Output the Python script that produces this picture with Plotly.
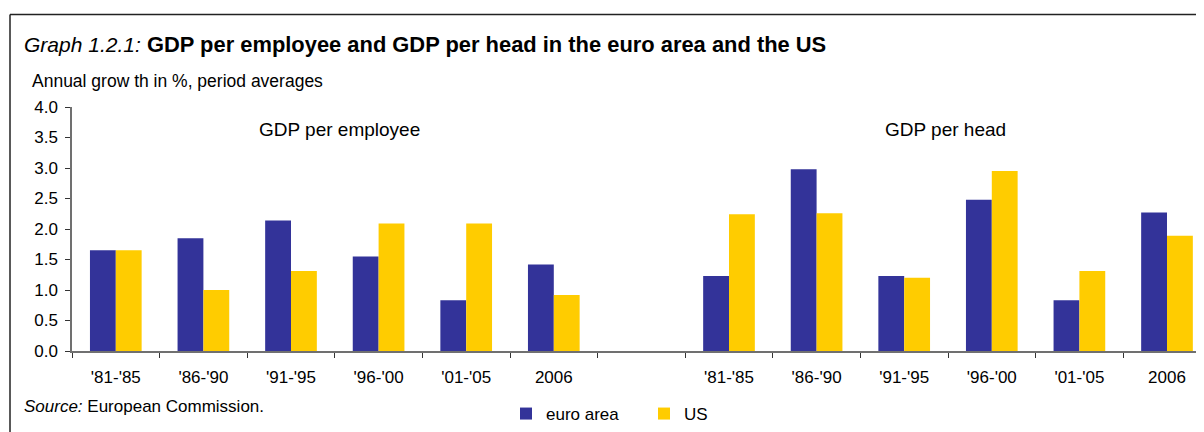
import plotly.graph_objects as go

# ---- data ----
periods = ["'81-'85", "'86-'90", "'91-'95", "'96-'00", "'01-'05", "2006"]
emp_euro = [1.65, 1.85, 2.14, 1.55, 0.83, 1.42]
emp_us = [1.65, 1.00, 1.31, 2.09, 2.09, 0.92]
head_euro = [1.23, 2.98, 1.23, 2.48, 0.83, 2.27]
head_us = [2.24, 2.26, 1.20, 2.95, 1.31, 1.89]
panel_titles = ["GDP per employee", "GDP per head"]
series_names = ["euro area", "US"]
colors = ["#333399", "#FFCC00"]

# page geometry (browser body has an 8px margin)
OFF = 8
W, H = 1204 - OFF, 432 - OFF
plot_left, plot_top, plot_bottom = 72, 107, 352   # page pixels
L = plot_left - OFF
T = plot_top - OFF
B = H - (plot_bottom - OFF)
R = 0
PW, PH = W - L - R, H - T - B

def px(x):  # page x -> paper
    return (x - OFF - L) / PW

def py(y):  # page y -> paper
    return (H - B - (y - OFF)) / PH

n = len(periods)
gap = 1
x_left = list(range(n))
x_right = [n + gap + i for i in range(n)]
xs = x_left + x_right
cat_w = 87.6
x_max = -0.5 + PW / cat_w

fig = go.Figure()
for name, col, a, b in [(series_names[0], colors[0], emp_euro, head_euro),
                        (series_names[1], colors[1], emp_us, head_us)]:
    fig.add_trace(go.Bar(x=xs, y=a + b, name=name, marker=dict(color=col, line=dict(width=0))))

font = "Liberation Sans, Arial, sans-serif"

fig.update_layout(
    width=W, height=H,
    margin=dict(l=L, r=R, t=T, b=B, pad=0),
    paper_bgcolor="white", plot_bgcolor="white",
    barmode="group", bargap=0.41, bargroupgap=0,
    font=dict(family=font, size=17, color="black"),
    showlegend=True,
    legend=dict(orientation="h", x=px(506), y=py(397), xanchor="left", yanchor="top",
                font=dict(size=17), entrywidth=93, entrywidthmode="pixels",
                bgcolor="rgba(0,0,0,0)", itemclick=False),
    xaxis=dict(range=[-0.5, x_max], tickmode="array", tickvals=xs, ticktext=periods + periods,
               ticks="", showline=True, linecolor="#707070", linewidth=1.5, showgrid=False,
               zeroline=False, ticklabelstandoff=10, tickfont=dict(size=17),
               minor=dict(tickvals=[i - 0.5 for i in range(2 * n + gap + 1)], ticks="outside",
                          ticklen=5, tickcolor="#333333", tickwidth=1, showgrid=False)),
    yaxis=dict(range=[0, 4], tickmode="linear", tick0=0, dtick=0.5, tickformat=".1f",
               ticks="outside", ticklen=5, tickcolor="#333333", showline=True,
               linecolor="#707070", linewidth=1.5, showgrid=False, zeroline=False,
               ticklabelstandoff=4, tickfont=dict(size=17)),
)

ann = []
ann.append(dict(text="<i>Graph 1.2.1:</i>", x=px(22), y=py(44), xref="paper", yref="paper",
                xanchor="left", yanchor="middle", showarrow=False, font=dict(size=21)))
ann.append(dict(text="<b>GDP per employee and GDP per head in the euro area and the US</b>",
                x=px(145), y=py(44), xref="paper", yref="paper", xanchor="left", yanchor="middle",
                showarrow=False, font=dict(size=21.9)))
ann.append(dict(text="Annual grow th in %, period averages", x=px(30), y=py(81), xref="paper", yref="paper",
                xanchor="left", yanchor="middle", showarrow=False, font=dict(size=17.5)))
ann.append(dict(text=panel_titles[0], x=px(339), y=py(130), xref="paper", yref="paper",
                xanchor="center", yanchor="middle", showarrow=False, font=dict(size=19)))
ann.append(dict(text=panel_titles[1], x=px(945), y=py(130), xref="paper", yref="paper",
                xanchor="center", yanchor="middle", showarrow=False, font=dict(size=19)))
ann.append(dict(text="<i>Source:</i> European Commission.", x=px(22), y=py(408), xref="paper", yref="paper",
                xanchor="left", yanchor="middle", showarrow=False, font=dict(size=17)))
fig.update_layout(annotations=ann)

# outer frame (top and left edges visible)
fig.add_shape(type="line", xref="paper", yref="paper", x0=px(10), x1=px(1230), y0=py(14), y1=py(14),
              line=dict(color="#222222", width=1.5))
fig.add_shape(type="line", xref="paper", yref="paper", x0=px(10), x1=px(10), y0=py(14), y1=py(460),
              line=dict(color="#222222", width=1.5))

fig.write_html("out.html")
